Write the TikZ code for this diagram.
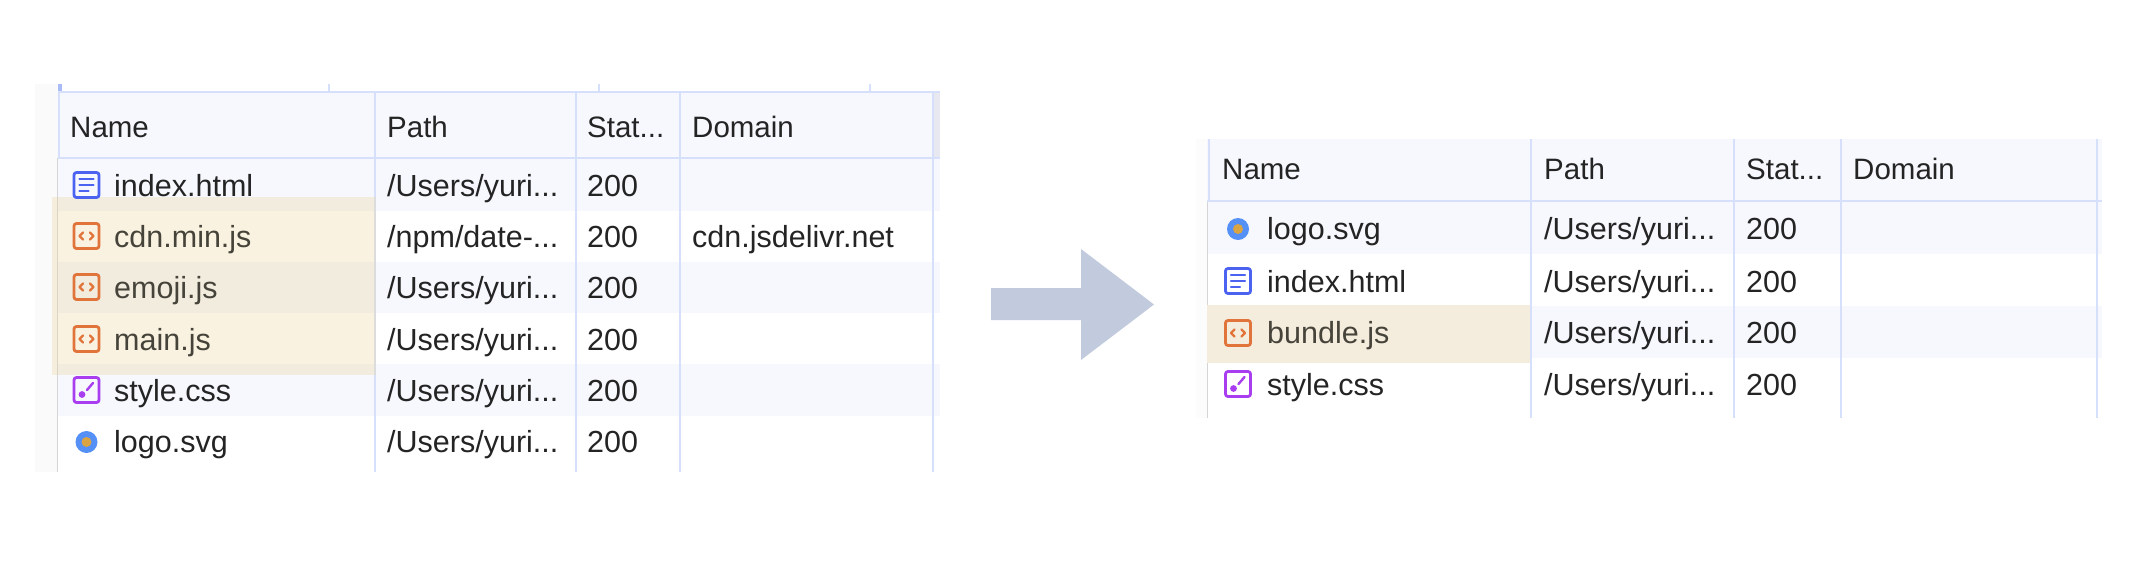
\documentclass[tikz,border=0pt]{standalone}
\usepackage{xcolor}
\usepackage{fontspec}
\setmainfont{Liberation Sans}
\definecolor{gridline}{HTML}{D6E0FB}
\definecolor{gridtick}{HTML}{A9BCF5}
\definecolor{stripe}{HTML}{F6F8FE}
\definecolor{gutter}{HTML}{FAFAFA}
\definecolor{gutterpale}{HTML}{FCFCFC}
\definecolor{sideline}{HTML}{D5D5D8}
\definecolor{headend}{HTML}{E8E9F0}
\definecolor{marker}{HTML}{EBD397}
\definecolor{markerflat}{HTML}{F4ECDD}
\definecolor{inktext}{HTML}{242424}
\definecolor{inkdim}{HTML}{46433A}
\definecolor{htmlblue}{HTML}{4B63F0}
\definecolor{jsorange}{HTML}{E0743A}
\definecolor{cssviolet}{HTML}{A83EF0}
\definecolor{svgblue}{HTML}{5590F7}
\definecolor{svgface}{HTML}{D9A441}
\definecolor{arrowgrey}{HTML}{C1CBDD}

\begin{document}
\begin{tikzpicture}[x=1pt, y=-1pt, font=\fontsize{30.5}{36}\selectfont, text=inktext,
	cell/.style={anchor=base west, inner sep=0pt},
	headcell/.style={cell, font=\fontsize{29.5}{35}\selectfont},
	dimcell/.style={cell, text=inkdim},
	grid/.style={draw=gridline, line width=2.6pt},
	iconbox/.style={draw=#1, line width=2.8pt, rounded corners=2.5pt},
	glyph/.style={draw=#1, line width=2.4pt, line cap=round, line join=round},
	htmlicon/.pic={
		\draw[iconbox=htmlblue] (-12.5,-12.5) rectangle (12.5,12.5);
		\draw[glyph=htmlblue] (-7,-6) -- (7,-6) (-7,0) -- (7,0) (-7,6) -- (2,6);
	},
	jsicon/.pic={
		\draw[iconbox=jsorange] (-12.5,-12.5) rectangle (12.5,12.5);
		\draw[glyph=jsorange] (-3.5,-3.5) -- (-7,0) -- (-3.5,3.5) (3.5,-3.5) -- (7,0) -- (3.5,3.5);
	},
	cssicon/.pic={
		\draw[iconbox=cssviolet] (-12.5,-12.5) rectangle (12.5,12.5);
		\draw[glyph=cssviolet] (6.5,-7) -- (0.5,0);
		\fill[cssviolet] (-4.5,4.5) circle (3.4pt);
	},
	svgicon/.pic={
		\fill[svgblue] (0,0) circle (11pt);
		\fill[svgface] (0,0) circle (5pt);
	}]
	\useasboundingbox (0,0) rectangle (2140,562);

	% left table
	\fill[gutter] (35,84) rectangle (57,472);
	\fill[stripe] (57,92) rectangle (940,211);
	\fill[stripe] (57,262) rectangle (940,313);
	\fill[stripe] (57,364) rectangle (940,416);
	\fill[headend] (933,92) rectangle (940,158);
	\draw[sideline, line width=1.5pt] (57.5,158) -- (57.5,472);
	\draw[gridtick, line width=4pt] (60,84) -- (60,92);
	\draw[grid] (329,84) -- (329,92) (599,84) -- (599,92) (870,84) -- (870,92);
	\draw[grid] (58,92) -- (940,92) (58,158) -- (940,158) (59,92) -- (59,158);
	\draw[grid] (375,92) -- (375,472) (576,92) -- (576,472) (680,92) -- (680,472) (933,92) -- (933,472);
	\fill[marker, fill opacity=0.3] (52,197) rectangle (376,375);

	\node[headcell] (nameL) at (70,137) {Name};
	\node[headcell] (pathL) at (387,137) {Path};
	\node[headcell] (statL) at (587,137) {Stat...};
	\node[headcell] (domL) at (692,137) {Domain};

	\pic at (86.5,185) {htmlicon};
	\node[cell] (indexL) at (114,196) {index.html};
	\node[cell] (pathLa) at (387,196) {/Users/yuri...};
	\node[cell] (statLa) at (587,196) {200};

	\pic at (86.5,236) {jsicon};
	\node[dimcell] (cdnL) at (114,247) {cdn.min.js};
	\node[cell] (pathLb) at (387,247) {/npm/date-...};
	\node[cell] (statLb) at (587,247) {200};
	\node[cell] (domLb) at (692,247) {cdn.jsdelivr.net};

	\pic at (86.5,287) {jsicon};
	\node[dimcell] (emojiL) at (114,298) {emoji.js};
	\node[cell] (pathLc) at (387,298) {/Users/yuri...};
	\node[cell] (statLc) at (587,298) {200};

	\pic at (86.5,339) {jsicon};
	\node[dimcell] (mainL) at (114,350) {main.js};
	\node[cell] (pathLd) at (387,350) {/Users/yuri...};
	\node[cell] (statLd) at (587,350) {200};

	\pic at (86.5,390) {cssicon};
	\node[cell] (styleL) at (114,401) {style.css};
	\node[cell] (pathLe) at (387,401) {/Users/yuri...};
	\node[cell] (statLe) at (587,401) {200};

	\pic at (86.5,442) {svgicon};
	\node[cell] (logoL) at (114,452) {logo.svg};
	\node[cell] (pathLf) at (387,452) {/Users/yuri...};
	\node[cell] (statLf) at (587,452) {200};

	% arrow between the tables
	\fill[arrowgrey] (991,288) -- (1081,288) -- (1081,249) -- (1154,304.5) -- (1081,360) -- (1081,320) -- (991,320) -- cycle;

	% right table
	\fill[gutterpale] (1196,139) rectangle (1207,418);
	\fill[stripe] (1207,139) rectangle (2102,254);
	\fill[stripe] (1207,306) rectangle (2102,358);
	\draw[sideline, line width=1.5pt] (1207.5,201) -- (1207.5,418);
	\draw[grid] (1209,139) -- (1209,201) (1207,201) -- (2102,201);
	\draw[grid] (1531,139) -- (1531,418) (1734,139) -- (1734,418) (1841,139) -- (1841,418) (2097,139) -- (2097,418);
	\fill[markerflat] (1207,305) rectangle (1530,363);

	\node[headcell] (nameR) at (1222,179) {Name};
	\node[headcell] (pathR) at (1544,179) {Path};
	\node[headcell] (statR) at (1746,179) {Stat...};
	\node[headcell] (domR) at (1853,179) {Domain};

	\pic at (1238,229) {svgicon};
	\node[cell] (logoR) at (1267,239) {logo.svg};
	\node[cell] (pathRa) at (1544,239) {/Users/yuri...};
	\node[cell] (statRa) at (1746,239) {200};

	\pic at (1238,281) {htmlicon};
	\node[cell] (indexR) at (1267,292) {index.html};
	\node[cell] (pathRb) at (1544,292) {/Users/yuri...};
	\node[cell] (statRb) at (1746,292) {200};

	\pic at (1238,333) {jsicon};
	\node[dimcell] (bundleR) at (1267,343) {bundle.js};
	\node[cell] (pathRc) at (1544,343) {/Users/yuri...};
	\node[cell] (statRc) at (1746,343) {200};

	\pic at (1238,384) {cssicon};
	\node[cell] (styleR) at (1267,395) {style.css};
	\node[cell] (pathRd) at (1544,395) {/Users/yuri...};
	\node[cell] (statRd) at (1746,395) {200};
\end{tikzpicture}
\end{document}
